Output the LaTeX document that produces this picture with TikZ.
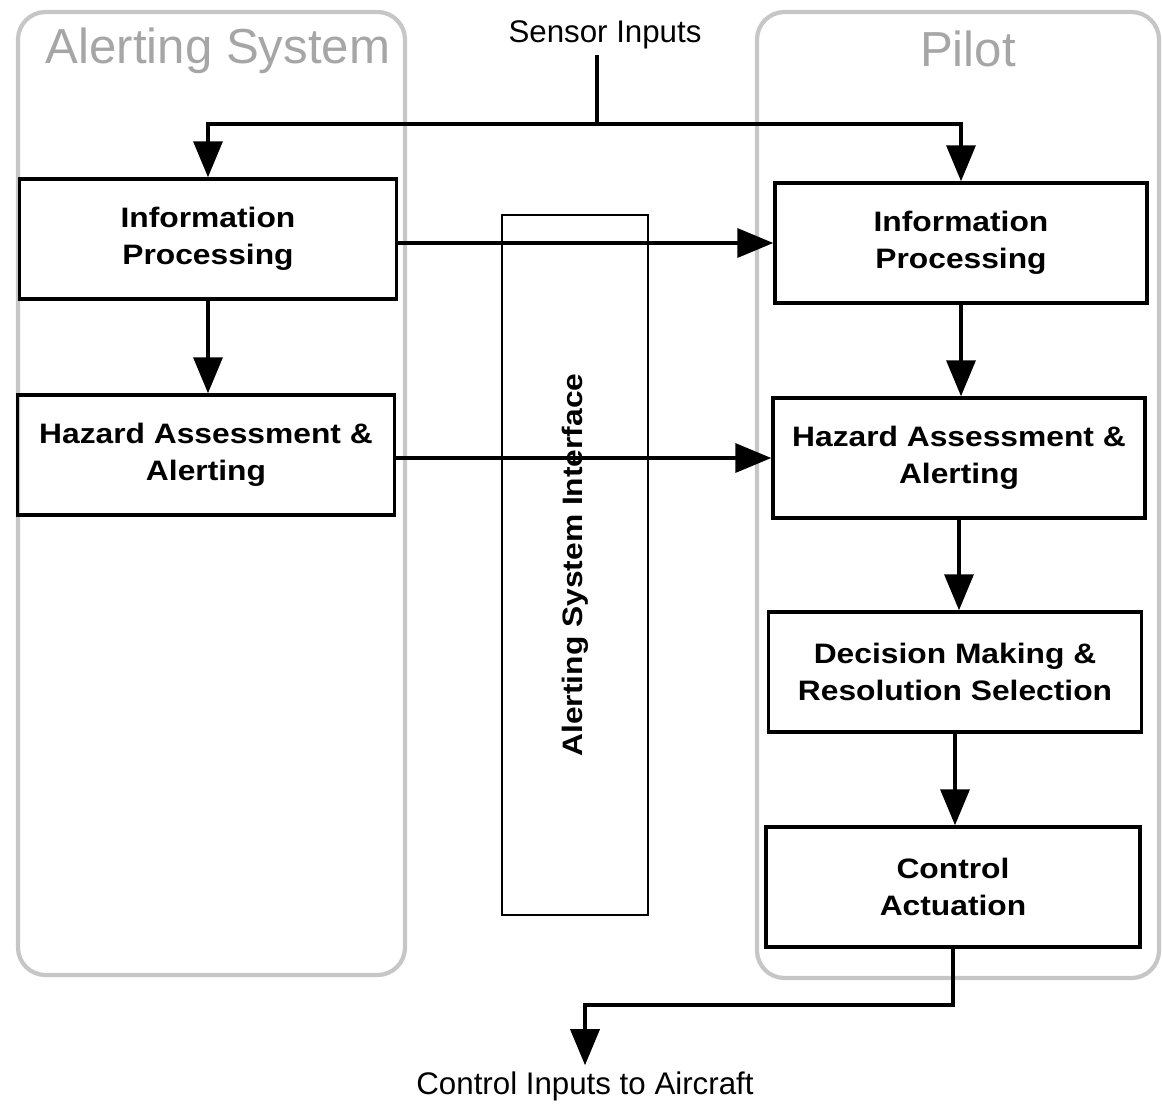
\documentclass[tikz,border=0pt]{standalone}
\usepackage{fontspec}
\setmainfont{Liberation Sans}
\newfontfamily\widefont{Liberation Sans}[FakeStretch=1.13]
\usetikzlibrary{arrows.meta}

\tikzset{
    flowline/.style={line width=2pt},
    flowarrow/.style={line width=2pt, -{Triangle[length=0.72cm, width=0.58cm]}},
    procbox/.style={draw, line width=2pt, align=center, minimum width=7.48cm, minimum height=2.4cm,
        font=\widefont\bfseries\fontsize{16}{21}\selectfont},
    groupframe/.style={draw=gray!45, line width=2.4pt, rounded corners=0.55cm},
    grouptitle/.style={text=gray!70, font=\fontsize{28}{32}\selectfont},
    plainlabel/.style={font=\fontsize{17.8}{20}\selectfont}
}

\begin{document}
\begin{tikzpicture}[x=0.02cm, y=-0.02cm]
    \useasboundingbox (0,0) rectangle (1162,1103);

    \draw[groupframe] (18,12) rectangle (405,975);
    \draw[groupframe] (757,12) rectangle (1159,978);
    \node[grouptitle] (astitle) at (218,51) {Alerting System};
    \node[grouptitle] (pilottitle) at (968,49) {Pilot};

    \node[plainlabel] (sensor) at (605,35) {Sensor Inputs};
    \node[plainlabel] (ctrl) at (585,1086) {Control Inputs to Aircraft};

    \node[procbox, minimum width=7.54cm] (lip) at (208,239) {Information\\Processing};
    \node[procbox, minimum width=7.54cm] (lha) at (206,455) {Hazard Assessment \&\\Alerting};
    \node[procbox, minimum width=7.44cm] (rip) at (961,243) {Information\\Processing};
    \node[procbox, minimum width=7.44cm] (rha) at (959,458) {Hazard Assessment \&\\Alerting};
    \node[procbox, minimum width=7.46cm] (rdm) at (955,672) {Decision Making \&\\Resolution Selection};
    \node[procbox, minimum width=7.48cm] (rca) at (953,887) {Control\\Actuation};

    \node[procbox, rotate=90, minimum width=14cm, minimum height=2.92cm, line width=1.5pt] (iface) at (575,565) {Alerting System Interface};

    \coordinate (split) at (597,124);
    \coordinate (turn) at (585,1005);

    \draw[flowline] (sensor.south -| split) -- (split);
    \draw[flowarrow] (split) -| (lip.north);
    \draw[flowarrow] (split) -| (rip.north);

    \draw[flowarrow] (lip.south) -- (lip.south |- lha.north);
    \draw[flowarrow] (lip.east |- rip.west) -- (rip.west);
    \draw[flowarrow] (lha.east |- rha.west) -- (rha.west);

    \draw[flowarrow] (rip.south) -- (rip.south |- rha.north);
    \draw[flowarrow] (rha.south) -- (rha.south |- rdm.north);
    \draw[flowarrow] (rdm.south) -- (rdm.south |- rca.north);
    \draw[flowarrow] (rca.south) |- (turn) -- (ctrl.north);
\end{tikzpicture}
\end{document}
